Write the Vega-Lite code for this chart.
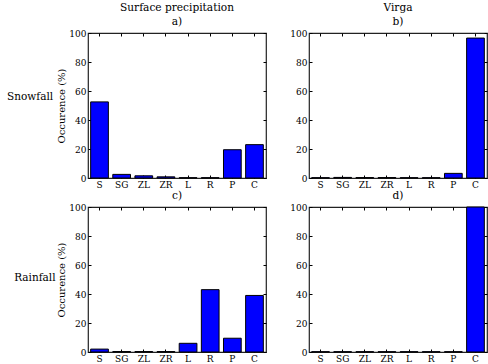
{
  "$schema": "https://vega.github.io/schema/vega-lite/v6.json",
  "background": "white",
  "padding": {"left": 7, "top": 2, "right": 0, "bottom": 0},
  "datasets": {
    "occ": [
      {"panel": "a", "cat": "S", "value": 52.5},
      {"panel": "a", "cat": "SG", "value": 2.5},
      {"panel": "a", "cat": "ZL", "value": 1.5},
      {"panel": "a", "cat": "ZR", "value": 0.8},
      {"panel": "a", "cat": "L", "value": 0.2},
      {"panel": "a", "cat": "R", "value": 0.2},
      {"panel": "a", "cat": "P", "value": 19.5},
      {"panel": "a", "cat": "C", "value": 23.0},
      {"panel": "b", "cat": "S", "value": 0.2},
      {"panel": "b", "cat": "SG", "value": 0.4},
      {"panel": "b", "cat": "ZL", "value": 0.3},
      {"panel": "b", "cat": "ZR", "value": 0.3},
      {"panel": "b", "cat": "L", "value": 0.2},
      {"panel": "b", "cat": "R", "value": 0.2},
      {"panel": "b", "cat": "P", "value": 3.2},
      {"panel": "b", "cat": "C", "value": 96.5},
      {"panel": "c", "cat": "S", "value": 2.0},
      {"panel": "c", "cat": "SG", "value": 0.3},
      {"panel": "c", "cat": "ZL", "value": 0.3},
      {"panel": "c", "cat": "ZR", "value": 0.3},
      {"panel": "c", "cat": "L", "value": 6.0},
      {"panel": "c", "cat": "R", "value": 43.0},
      {"panel": "c", "cat": "P", "value": 9.5},
      {"panel": "c", "cat": "C", "value": 39.0},
      {"panel": "d", "cat": "S", "value": 0.2},
      {"panel": "d", "cat": "SG", "value": 0.2},
      {"panel": "d", "cat": "ZL", "value": 0.2},
      {"panel": "d", "cat": "ZR", "value": 0.2},
      {"panel": "d", "cat": "L", "value": 0.2},
      {"panel": "d", "cat": "R", "value": 0.2},
      {"panel": "d", "cat": "P", "value": 0.2},
      {"panel": "d", "cat": "C", "value": 100.0}
    ]
  },
  "config": {
    "font": "DejaVu Serif",
    "view": {"stroke": "#222222", "strokeWidth": 1.2},
    "axis": {
      "domain": false,
      "grid": false,
      "labelFont": "DejaVu Serif",
      "labelFontSize": 9,
      "labelColor": "black",
      "titleFont": "DejaVu Serif",
      "titleFontSize": 10,
      "titleFontWeight": "normal",
      "titleColor": "black",
      "tickColor": "black",
      "tickSize": -3,
      "labelPadding": 5
    },
    "title": {"font": "DejaVu Serif", "fontSize": 10.6, "fontWeight": "normal", "color": "black"}
  },
  "spacing": 0,
  "vconcat": [
    {
      "title": {"text": "Snowfall", "orient": "left", "angle": 0, "anchor": "middle", "fontSize": 10.5, "offset": -20, "dy": -4},
      "spacing": 21,
      "hconcat": [
        {
          "width": 178, "height": 145,
          "title": {"text": ["Surface precipitation", "a)"], "lineHeight": 14, "offset": 1},
          "data": {"name": "occ"},
          "transform": [{"filter": "datum.panel === 'a'"}],
          "layer": [
            {"mark": {"type": "bar", "fill": "#0000ff", "stroke": "black", "strokeWidth": 1},
             "encoding": {
               "x": {"field": "cat", "type": "nominal", "sort": null, "scale": {"paddingInner": 0.2, "paddingOuter": 0.12}, "axis": {"title": null, "labelAngle": 0}},
               "y": {"field": "value", "type": "quantitative", "scale": {"domain": [0, 100], "nice": false}, "axis": {"title": "Occurence (%)", "values": [0, 20, 40, 60, 80, 100], "titlePadding": 2}}
             }},
            {"mark": {"type": "bar", "opacity": 0},
             "encoding": {
               "x": {"field": "cat", "type": "nominal", "sort": null, "axis": {"orient": "top", "labels": false, "title": null}},
               "y": {"field": "value", "type": "quantitative", "axis": {"orient": "right", "labels": false, "title": null, "values": [0, 20, 40, 60, 80, 100]}}
             }}
          ],
          "resolve": {"axis": {"x": "independent", "y": "independent"}}
        },
        {
          "width": 178, "height": 145,
          "title": {"text": ["Virga", "b)"], "lineHeight": 14, "offset": 1},
          "data": {"name": "occ"},
          "transform": [{"filter": "datum.panel === 'b'"}],
          "layer": [
            {"mark": {"type": "bar", "fill": "#0000ff", "stroke": "black", "strokeWidth": 1},
             "encoding": {
               "x": {"field": "cat", "type": "nominal", "sort": null, "scale": {"paddingInner": 0.2, "paddingOuter": 0.12}, "axis": {"title": null, "labelAngle": 0}},
               "y": {"field": "value", "type": "quantitative", "scale": {"domain": [0, 100], "nice": false}, "axis": {"title": null, "values": [0, 20, 40, 60, 80, 100]}}
             }},
            {"mark": {"type": "bar", "opacity": 0},
             "encoding": {
               "x": {"field": "cat", "type": "nominal", "sort": null, "axis": {"orient": "top", "labels": false, "title": null}},
               "y": {"field": "value", "type": "quantitative", "axis": {"orient": "right", "labels": false, "title": null, "values": [0, 20, 40, 60, 80, 100]}}
             }}
          ],
          "resolve": {"axis": {"x": "independent", "y": "independent"}}
        }
      ]
    },
    {
      "title": {"text": "Rainfall", "orient": "left", "angle": 0, "anchor": "middle", "fontSize": 10.5, "offset": -20, "dy": -4},
      "spacing": 21,
      "hconcat": [
        {
          "width": 178, "height": 145,
          "title": {"text": "c)", "offset": 1},
          "data": {"name": "occ"},
          "transform": [{"filter": "datum.panel === 'c'"}],
          "layer": [
            {"mark": {"type": "bar", "fill": "#0000ff", "stroke": "black", "strokeWidth": 1},
             "encoding": {
               "x": {"field": "cat", "type": "nominal", "sort": null, "scale": {"paddingInner": 0.2, "paddingOuter": 0.12}, "axis": {"title": null, "labelAngle": 0}},
               "y": {"field": "value", "type": "quantitative", "scale": {"domain": [0, 100], "nice": false}, "axis": {"title": "Occurence (%)", "values": [0, 20, 40, 60, 80, 100], "titlePadding": 2}}
             }},
            {"mark": {"type": "bar", "opacity": 0},
             "encoding": {
               "x": {"field": "cat", "type": "nominal", "sort": null, "axis": {"orient": "top", "labels": false, "title": null}},
               "y": {"field": "value", "type": "quantitative", "axis": {"orient": "right", "labels": false, "title": null, "values": [0, 20, 40, 60, 80, 100]}}
             }}
          ],
          "resolve": {"axis": {"x": "independent", "y": "independent"}}
        },
        {
          "width": 178, "height": 145,
          "title": {"text": "d)", "offset": 1},
          "data": {"name": "occ"},
          "transform": [{"filter": "datum.panel === 'd'"}],
          "layer": [
            {"mark": {"type": "bar", "fill": "#0000ff", "stroke": "black", "strokeWidth": 1},
             "encoding": {
               "x": {"field": "cat", "type": "nominal", "sort": null, "scale": {"paddingInner": 0.2, "paddingOuter": 0.12}, "axis": {"title": null, "labelAngle": 0}},
               "y": {"field": "value", "type": "quantitative", "scale": {"domain": [0, 100], "nice": false}, "axis": {"title": null, "values": [0, 20, 40, 60, 80, 100]}}
             }},
            {"mark": {"type": "bar", "opacity": 0},
             "encoding": {
               "x": {"field": "cat", "type": "nominal", "sort": null, "axis": {"orient": "top", "labels": false, "title": null}},
               "y": {"field": "value", "type": "quantitative", "axis": {"orient": "right", "labels": false, "title": null, "values": [0, 20, 40, 60, 80, 100]}}
             }}
          ],
          "resolve": {"axis": {"x": "independent", "y": "independent"}}
        }
      ]
    }
  ]
}
